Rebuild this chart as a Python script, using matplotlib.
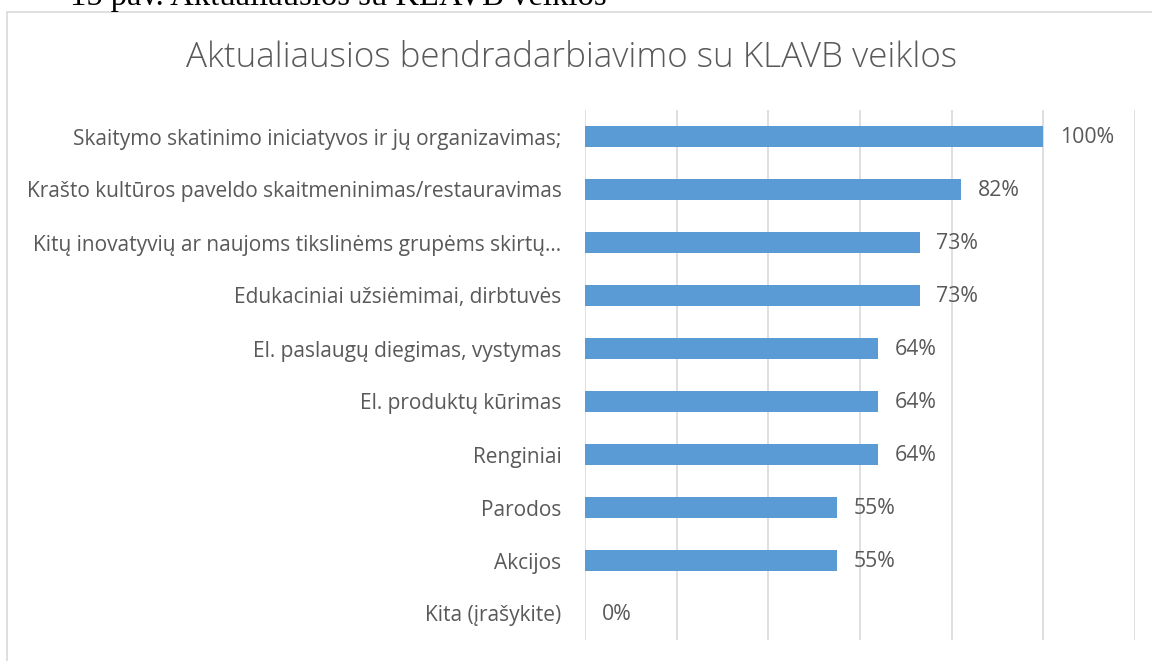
import matplotlib.pyplot as plt
from matplotlib.patches import Rectangle
from matplotlib.ticker import MultipleLocator

categories = [
    "Skaitymo skatinimo iniciatyvos ir jų organizavimas;",
    "Krašto kultūros paveldo skaitmeninimas/restauravimas",
    "Kitų inovatyvių ar naujoms tikslinėms grupėms skirtų…",
    "Edukaciniai užsiėmimai, dirbtuvės",
    "El. paslaugų diegimas, vystymas",
    "El. produktų kūrimas",
    "Renginiai",
    "Parodos",
    "Akcijos",
    "Kita (įrašykite)",
]
values = [100, 82, 73, 73, 64, 64, 64, 55, 55, 0]

txt = "#595959"
bar_col = "#5B9BD5"
grid_col = "#D9D9D9"
font = "Open Sans"

fig = plt.figure(figsize=(11.52, 6.61), dpi=100)
W, H = 1152, 661

# outer chart frame (clipped at right and bottom like the screenshot)
fig.patches.append(Rectangle((7 / W, -0.01), 1.0, 1 - 12 / H + 0.01,
                             transform=fig.transFigure, fill=False,
                             edgecolor=grid_col, lw=1.2))

# caption from the document, cut off at the top
fig.text(70 / W, 1 - 5 / H, "15 pav. Aktualiausios su KLAVB veiklos",
         family="Liberation Serif", fontsize=23.5, color="black", va="baseline")

fig.text(572 / W, 1 - 58 / H, "Aktualiausios bendradarbiavimo su KLAVB veiklos",
         family=font, fontsize=25.2, color=txt, ha="center", va="center",
         fontweight="light")

ax = fig.add_axes([585 / W, 1 - 640 / H, 550 / W, 530 / H])
y = list(range(len(categories)))
ax.barh(y, values, height=0.38, color=bar_col, zorder=3)
ax.set_xlim(0, 120)
ax.set_ylim(len(categories) - 0.5, -0.5)
ax.xaxis.set_major_locator(MultipleLocator(20))
ax.grid(axis="x", color=grid_col, lw=1.2, zorder=0)
ax.set_xticklabels([])
ax.tick_params(axis="x", length=0)
ax.tick_params(axis="y", length=0, pad=17)
ax.set_yticks(y)
ax.set_yticklabels(categories, family=font, fontsize=15.0, color=txt)
for s in ax.spines.values():
    s.set_visible(False)

for yi, v in zip(y, values):
    ax.annotate(f"{v}%", (v, yi), xytext=(12, -1), textcoords="offset points",
                va="center", ha="left", family=font, fontsize=15.3, color=txt)

fig.savefig("out.png", dpi=100)
